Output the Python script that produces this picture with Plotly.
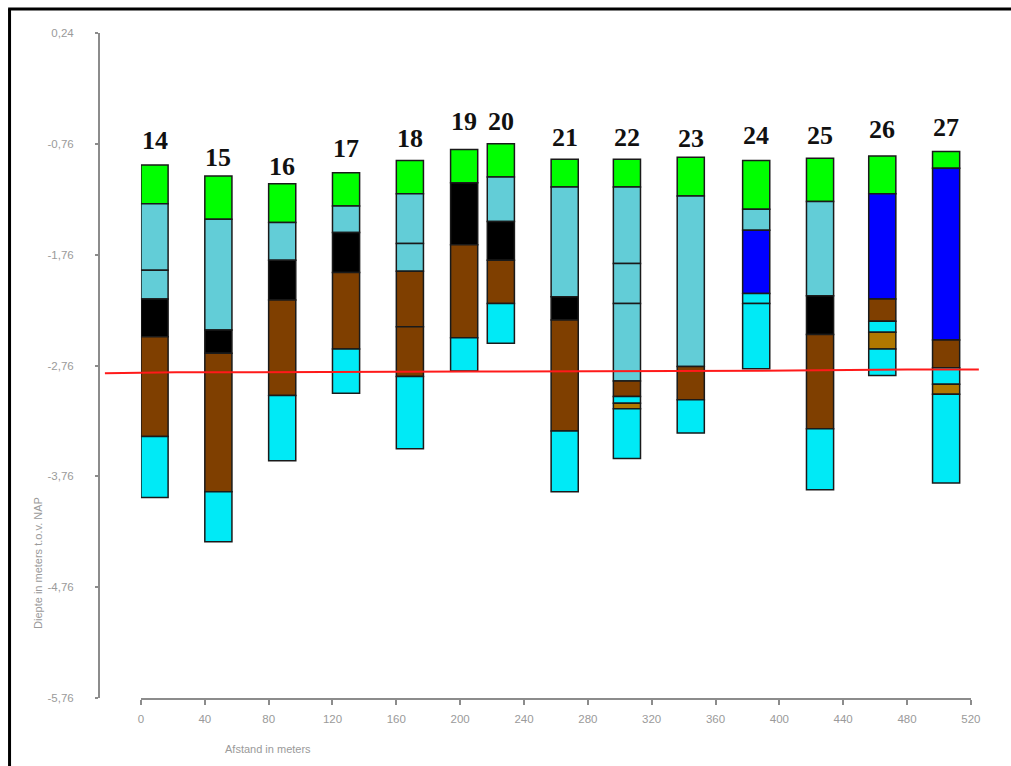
import plotly.graph_objects as go

# ---------------- data ----------------
boreholes = ["14", "15", "16", "17", "18", "19", "20", "21", "22", "23", "24", "25", "26", "27"]
positions = [0, 40, 80, 120, 160, 194, 217, 257, 296, 336, 377, 417, 456, 496]   # left edge (m)
label_y = [-0.734, -0.879, -0.96, -0.798, -0.716, -0.56, -0.554, -0.705, -0.707, -0.714,
           -0.689, -0.689, -0.635, -0.614]

# layer boundaries (m t.o.v. NAP), top to bottom, and soil code per layer
b14 = [-0.95, -1.30, -1.90, -2.16, -2.50, -3.40, -3.95]
s14 = ["G", "L", "L", "K", "B", "C"]
b15 = [-1.05, -1.44, -2.44, -2.65, -3.90, -4.35]
s15 = ["G", "L", "K", "B", "C"]
b16 = [-1.12, -1.47, -1.81, -2.17, -3.03, -3.62]
s16 = ["G", "L", "K", "B", "C"]
b17 = [-1.02, -1.32, -1.56, -1.92, -2.61, -3.01]
s17 = ["G", "L", "K", "B", "C"]
b18 = [-0.91, -1.21, -1.66, -1.91, -2.41, -2.86, -3.51]
s18 = ["G", "L", "L", "B", "B", "C"]
b19 = [-0.81, -1.11, -1.67, -2.51, -2.81]
s19 = ["G", "K", "B", "C"]
b20 = [-0.76, -1.06, -1.46, -1.81, -2.20, -2.56]
s20 = ["G", "L", "K", "B", "C"]
b21 = [-0.90, -1.15, -2.14, -2.35, -3.35, -3.90]
s21 = ["G", "L", "K", "B", "C"]
b22 = [-0.90, -1.15, -1.84, -2.20, -2.90, -3.04, -3.10, -3.15, -3.60]
s22 = ["G", "L", "L", "L", "B", "C", "O", "C"]
b23 = [-0.88, -1.23, -2.77, -3.07, -3.37]
s23 = ["G", "L", "B", "C"]
b24 = [-0.91, -1.35, -1.54, -2.11, -2.20, -2.79]
s24 = ["G", "L", "P", "C", "C"]
b25 = [-0.89, -1.28, -2.13, -2.48, -3.33, -3.88]
s25 = ["G", "L", "K", "B", "C"]
b26 = [-0.87, -1.21, -2.16, -2.36, -2.46, -2.61, -2.85]
s26 = ["G", "P", "B", "C", "O", "C"]
b27 = [-0.83, -0.98, -2.53, -2.78, -2.93, -3.02, -3.82]
s27 = ["G", "P", "B", "C", "O", "C"]

# groundwater level line
gw_x = [-22.6, 22, 205, 388, 480, 525]
gw_y = [-2.830, -2.822, -2.815, -2.807, -2.795, -2.795]

y_ticks = [0.24, -0.76, -1.76, -2.76, -3.76, -4.76, -5.76]
y_ticktext = ["0,24", "-0,76", "-1,76", "-2,76", "-3,76", "-4,76", "-5,76"]
x_ticks = list(range(0, 521, 40))

soil_colors = {
    "G": "#00FF00",  # green
    "L": "#62CDD7",  # light blue
    "K": "#000000",  # black
    "B": "#7F3F00",  # brown
    "C": "#00EAF6",  # cyan
    "P": "#0000FF",  # blue
    "O": "#B07800",  # ochre
}

bounds = [b14, b15, b16, b17, b18, b19, b20, b21, b22, b23, b24, b25, b26, b27]
soils = [s14, s15, s16, s17, s18, s19, s20, s21, s22, s23, s24, s25, s26, s27]

BAR_W = 17
X_MIN, X_MAX = -26.3, 532
Y_MIN, Y_MAX = -5.76, 0.24

fig = go.Figure()

max_layers = max(len(s) for s in soils)
for k in range(max_layers):
    xs, bases, hs, cols = [], [], [], []
    for pos, bnd, sl in zip(positions, bounds, soils):
        if k < len(sl):
            xs.append(pos)
            bases.append(bnd[k + 1])
            hs.append(bnd[k] - bnd[k + 1])
            cols.append(soil_colors[sl[k]])
    fig.add_trace(go.Bar(
        x=xs, y=hs, base=bases, width=BAR_W, offset=0,
        marker=dict(color=cols, line=dict(color="#1a1a1a", width=1.5)),
        xaxis="x", yaxis="y", showlegend=False, hoverinfo="skip",
    ))

fig.add_trace(go.Scatter(
    x=gw_x, y=gw_y, mode="lines", line=dict(color="#FF1A1A", width=2),
    xaxis="x2", yaxis="y", showlegend=False, hoverinfo="skip",
))

annotations = []
for name, pos, ly in zip(boreholes, positions, label_y):
    annotations.append(dict(
        x=pos + BAR_W / 2, y=ly, xref="x", yref="y", text="<b>%s</b>" % name,
        showarrow=False, xanchor="center", yanchor="middle",
        font=dict(family="Liberation Serif, Times New Roman, serif", size=26, color="#111111"),
    ))

axis_font = dict(family="Liberation Sans, Arial, sans-serif", size=11.5, color="#9a9a9a")
annotations.append(dict(
    x=-0.0685, y=0.203, xref="paper", yref="paper", text="Diepte in meters t.o.v. NAP",
    textangle=-90, showarrow=False, xanchor="center", yanchor="middle",
    font=dict(family="Liberation Sans, Arial, sans-serif", size=11, color="#9a9a9a"),
))
annotations.append(dict(
    x=0.1893, y=-0.0767, xref="paper", yref="paper", text="Afstand in meters",
    showarrow=False, xanchor="center", yanchor="middle",
    font=dict(family="Liberation Sans, Arial, sans-serif", size=11, color="#9a9a9a"),
))

dom0 = (0 - X_MIN) / (X_MAX - X_MIN)
dom1 = (520 - X_MIN) / (X_MAX - X_MIN)

fig.update_layout(
    width=1011, height=766,
    margin=dict(l=99, r=21, t=33, b=68),
    paper_bgcolor="white", plot_bgcolor="rgba(0,0,0,0)",
    barmode="overlay",
    showlegend=False,
    xaxis=dict(
        domain=[dom0, dom1], range=[0, 520], anchor="y",
        tickvals=x_ticks, ticktext=[str(v) for v in x_ticks],
        showline=True, linecolor="#8c8c8c", linewidth=2,
        ticks="outside", ticklen=5, tickwidth=2, tickcolor="#8c8c8c",
        showgrid=False, zeroline=False, tickfont=axis_font, ticklabelstandoff=4,
    ),
    xaxis2=dict(domain=[0, 1], range=[X_MIN, X_MAX], anchor="y", visible=False,
                showgrid=False, zeroline=False),
    yaxis=dict(
        range=[Y_MIN, Y_MAX], anchor="free", position=0,
        tickvals=y_ticks, ticktext=y_ticktext,
        showline=True, linecolor="#8c8c8c", linewidth=2,
        ticks="outside", ticklen=3, tickwidth=2, tickcolor="#8c8c8c",
        showgrid=False, zeroline=False, tickfont=axis_font, ticklabelstandoff=19,
    ),
    annotations=annotations,
    shapes=[
        dict(type="line", xref="paper", yref="paper", x0=-0.1004, x1=-0.1004,
             y0=1.036, y1=-0.12, line=dict(color="black", width=3)),
        dict(type="line", xref="paper", yref="paper", x0=-0.102, x1=1.03,
             y0=1.036, y1=1.036, line=dict(color="black", width=3)),
    ],
)

fig.write_html(
    "out.html",
    config={"displayModeBar": False},
    post_script="document.body.style.margin='0';document.body.style.overflow='hidden';",
)
